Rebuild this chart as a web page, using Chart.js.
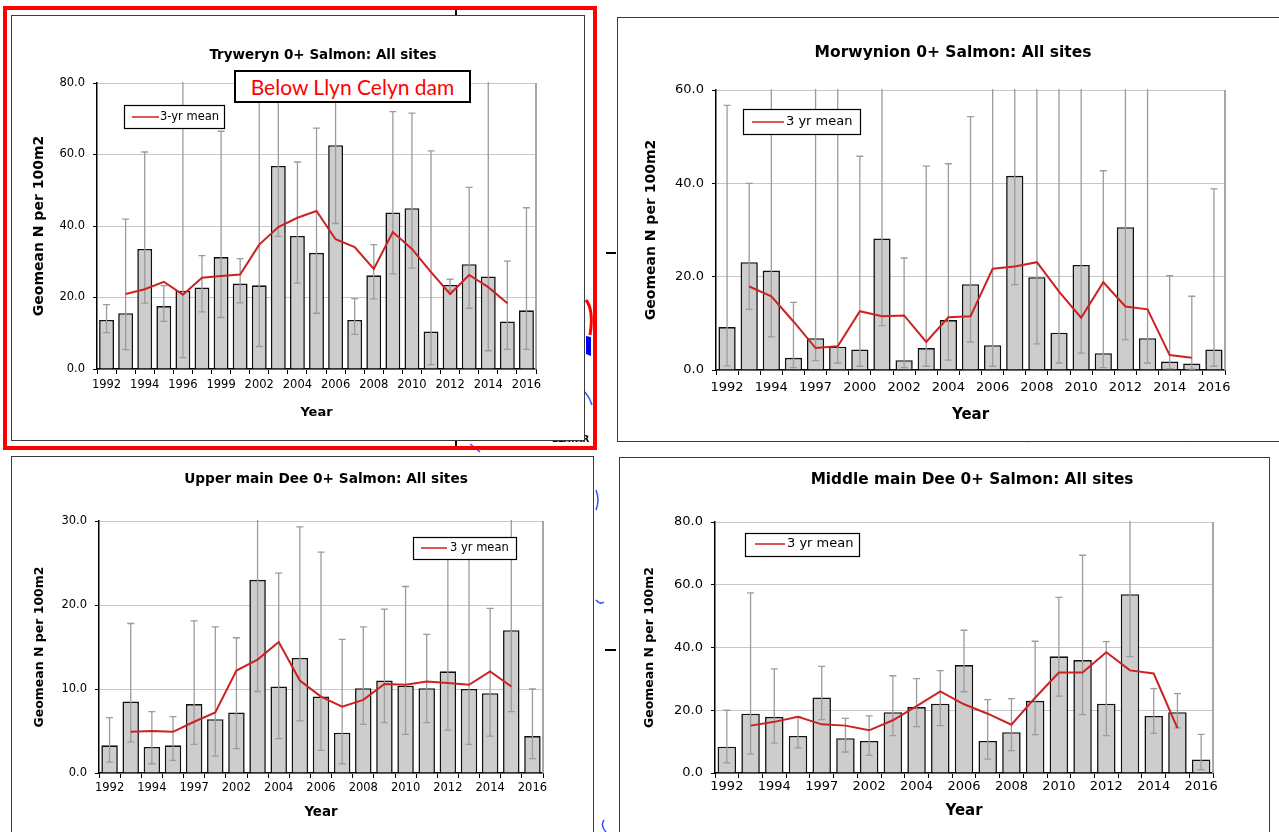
<!DOCTYPE html>
<html>
<head>
<meta charset="utf-8">
<title>0+ Salmon: All sites</title>
<script src="https://cdn.jsdelivr.net/npm/chart.js@4.4.1/dist/chart.umd.min.js"></script>
<style>
    html, body { margin: 0; padding: 0; background: #fff; width: 1279px; height: 832px; overflow: hidden; }
    .frame { position: absolute; box-sizing: border-box; border: 1.5px solid #3a3a3a; background: #fff; z-index: 2; }
    canvas { position: absolute; z-index: 3; }
    #map { position: absolute; left: 0; top: 0; z-index: 0; }
    #redFrame { position: absolute; left: 3px; top: 6px; width: 594px; height: 444px; box-sizing: border-box; border: 4px solid #ff0000; z-index: 1; }
    #damLabel {
        position: absolute; left: 234px; top: 70px; width: 237px; height: 33px; box-sizing: border-box;
        border: 2px solid #000; background: #fff; color: #ff0000; z-index: 4;
        font: 21px Lato, "Open Sans", sans-serif; line-height: 29px; text-align: center;
    }
    #llatar { position: absolute; left: 552px; top: 434px; font: bold 9px "DejaVu Sans", sans-serif; z-index: 1; }
</style>
</head>
<body>
<svg id="map" width="1279" height="832">
    <line x1="456" y1="8" x2="456" y2="16" stroke="#000" stroke-width="2"/>
    <line x1="456" y1="440" x2="456" y2="450" stroke="#000" stroke-width="2"/>
    <line x1="606" y1="253" x2="616" y2="253" stroke="#000" stroke-width="2"/>
    <line x1="605" y1="650" x2="616" y2="650" stroke="#000" stroke-width="2"/>
    <path d="M586 300 Q594 310 590 335" stroke="#ff0000" stroke-width="3" fill="none"/>
    <path d="M586 336 L591 337 L591 356 L586 354 Z" fill="#0000ff"/>
    <path d="M585 392 Q590 398 592 405" stroke="#3050ff" stroke-width="1.5" fill="none"/>
    <path d="M470 444 Q476 448 480 452" stroke="#3050ff" stroke-width="1.5" fill="none"/>
    <path d="M1028 432 L1029 442" stroke="#ff0000" stroke-width="3"/>
    <path d="M1190 434 L1186 442" stroke="#3050ff" stroke-width="1.5"/>
    <path d="M596 490 Q600 500 596 510" stroke="#3050ff" stroke-width="1.5" fill="none"/>
    <path d="M596 600 Q600 605 604 602" stroke="#3050ff" stroke-width="1.5" fill="none"/>
    <path d="M604 820 Q600 826 606 832" stroke="#3050ff" stroke-width="1.5" fill="none"/>
</svg>
<div id="redFrame"></div>
<div id="llatar">LLATAR</div>
<div id="damLabel">Below Llyn Celyn dam</div>

<script>
// Tryweryn (below Llyn Celyn dam)
const trywerynYears = ['1992','1993','1994','1995','1996','1997','1999','2000','2002','2003','2004','2005',
    '2006','2007','2008','2009','2010','2011','2012','2013','2014','2015','2016'];
const trywerynGeomean = [13.7, 15.6, 33.6, 17.6, 21.9, 22.8, 31.3, 23.9, 23.4, 56.8, 37.2, 32.5,
    62.6, 13.7, 26.2, 43.8, 45.0, 10.5, 23.5, 29.3, 25.9, 13.3, 16.4];
const trywerynLow = [10.2, 5.4, 18.4, 13.3, 3.2, 16.0, 14.4, 18.5, 6.3, 37.1, 24.0, 15.6,
    40.7, 9.7, 19.6, 26.6, 28.2, 1.2, 21.9, 17.0, 5.1, 5.5, 5.5];
const trywerynHigh = [18.0, 41.9, 60.7, 23.3, 90, 31.7, 66.5, 30.9, 90, 90, 57.9, 67.4,
    90, 19.7, 34.8, 72.0, 71.6, 61.0, 25.1, 50.8, 90, 30.2, 45.1];
const trywerynMean = [null, 21.0, 22.3, 24.4, 20.8, 25.5, 26.0, 26.4, 34.8, 39.7, 42.3, 44.2,
    36.3, 34.1, 28.0, 38.3, 33.6, 27.1, 21.0, 26.3, 22.9, 18.4, null];

// Morwynion
const morwynionYears = ['1992','1993','1994','1995','1997','1998','2000','2001','2002','2003','2004','2005',
    '2006','2007','2008','2009','2010','2011','2012','2013','2014','2015','2016'];
const morwynionGeomean = [9.2, 23.1, 21.3, 2.6, 6.8, 5.0, 4.4, 28.2, 2.1, 4.7, 10.7, 18.4,
    5.3, 41.6, 19.9, 8.0, 22.5, 3.6, 30.6, 6.8, 1.8, 1.4, 4.4];
const morwynionLow = [0.9, 13.0, 7.1, 0.5, 2.0, 1.5, 0.8, 9.5, 0.5, 0.8, 2.1, 6.0,
    0.8, 18.3, 5.6, 1.5, 3.6, 0.5, 6.5, 1.5, 0.3, 0.2, 0.8];
const morwynionHigh = [56.7, 40.0, 70, 14.5, 70, 70, 45.8, 70, 24.0, 43.7, 44.2, 54.3,
    70, 70, 70, 70, 70, 42.7, 70, 70, 20.2, 15.8, 38.8];
const morwynionMean = [null, 17.9, 15.8, 10.4, 4.7, 5.1, 12.6, 11.5, 11.7, 6.0, 11.3, 11.5,
    21.7, 22.2, 23.1, 16.8, 11.2, 18.8, 13.6, 13.0, 3.2, 2.6, null];

// Upper main Dee
const upperDeeYears = ['1992','1993','1994','1995','1997','1999','2002','2003','2004','2005','2006',
    '2007','2008','2009','2010','2011','2012','2013','2014','2015','2016'];
const upperDeeGeomean = [3.3, 8.5, 3.1, 3.3, 8.2, 6.4, 7.2, 23.0, 10.3, 13.7, 9.1,
    4.8, 10.1, 11.0, 10.4, 10.1, 12.1, 10.0, 9.5, 17.0, 4.4];
const upperDeeLow = [1.3, 3.7, 1.1, 1.5, 3.4, 2.0, 2.9, 9.7, 4.1, 6.2, 2.7,
    1.1, 5.8, 6.0, 4.6, 6.0, 5.1, 3.4, 4.4, 7.3, 1.7];
const upperDeeHigh = [6.6, 17.8, 7.3, 6.7, 18.1, 17.4, 16.1, 35, 23.8, 29.3, 26.3,
    15.9, 17.4, 19.5, 22.2, 16.5, 27.0, 26.5, 19.6, 35, 10.0];
const upperDeeMean = [null, 4.9, 5.0, 4.9, 6.1, 7.2, 12.2, 13.5, 15.6, 11.0, 9.1,
    7.9, 8.7, 10.6, 10.5, 10.9, 10.7, 10.5, 12.1, 10.3, null];

// Middle main Dee
const middleDeeYears = upperDeeYears.slice();
const middleDeeGeomean = [8.4, 18.9, 17.9, 11.8, 24.1, 11.1, 10.2, 19.4, 21.0, 22.1, 34.4,
    10.2, 13.0, 23.0, 37.2, 36.0, 22.1, 57.0, 18.2, 19.4, 4.3];
const middleDeeLow = [3.2, 6.0, 9.5, 8.0, 17.0, 6.7, 5.6, 11.9, 14.8, 15.1, 25.9,
    4.4, 7.1, 12.2, 24.5, 18.6, 11.9, 37.1, 12.6, 14.4, 1.1];
const middleDeeHigh = [20.0, 57.4, 33.2, 17.9, 34.0, 17.4, 18.2, 31.0, 30.1, 32.6, 45.5,
    23.4, 23.7, 42.0, 56.0, 69.4, 41.9, 90, 26.9, 25.3, 12.3];
const middleDeeMean = [null, 15.1, 16.3, 17.9, 15.5, 15.1, 13.6, 16.8, 21.3, 26.0, 21.9,
    18.9, 15.4, 24.0, 32.0, 32.0, 38.5, 32.7, 31.7, 14.3, null];

const FONT = '"DejaVu Sans", Verdana, sans-serif';

const panelDecor = {
    id: 'panelDecor',
    beforeDatasetsDraw(chart) {
        const a = chart.chartArea;
        const ctx = chart.ctx;
        ctx.save();
        ctx.strokeStyle = '#a6a6a6';
        ctx.lineWidth = 2;
        ctx.beginPath();
        ctx.moveTo(a.right, a.top);
        ctx.lineTo(a.right, a.bottom);
        ctx.stroke();
        ctx.restore();
    },
    afterDatasetDraw(chart, args, opts) {
        if (args.meta.type !== 'bar') return;
        const ctx = chart.ctx;
        const a = chart.chartArea;
        const y = chart.scales.y;
        ctx.save();
        ctx.beginPath();
        ctx.rect(a.left, a.top - 1, a.right - a.left, a.bottom - a.top + 1);
        ctx.clip();
        ctx.strokeStyle = '#9c9c9c';
        ctx.lineWidth = 1.3;
        args.meta.data.forEach((bar, i) => {
            const yl = y.getPixelForValue(opts.low[i]);
            const yh = y.getPixelForValue(opts.high[i]);
            ctx.beginPath();
            ctx.moveTo(bar.x, yl);
            ctx.lineTo(bar.x, yh);
            ctx.moveTo(bar.x - 3.5, yl);
            ctx.lineTo(bar.x + 3.5, yl);
            ctx.moveTo(bar.x - 3.5, yh);
            ctx.lineTo(bar.x + 3.5, yh);
            ctx.stroke();
        });
        ctx.restore();
    },
    afterDraw(chart, args, opts) {
        const ctx = chart.ctx;
        ctx.save();
        // chart title
        ctx.fillStyle = '#000';
        ctx.font = 'bold ' + opts.titleSize + 'px ' + FONT;
        ctx.textAlign = 'center';
        ctx.textBaseline = 'middle';
        ctx.fillText(opts.title, opts.titleX, opts.titleY);
        // legend box
        const lg = opts.legend;
        ctx.fillStyle = '#fff';
        ctx.fillRect(lg.x, lg.y, lg.w, lg.h);
        ctx.strokeStyle = '#000';
        ctx.lineWidth = 1.2;
        ctx.strokeRect(lg.x + 0.5, lg.y + 0.5, lg.w, lg.h);
        ctx.strokeStyle = '#cc2222';
        ctx.lineWidth = 1.5;
        ctx.beginPath();
        ctx.moveTo(lg.lineX1, lg.lineY);
        ctx.lineTo(lg.lineX2, lg.lineY);
        ctx.stroke();
        ctx.fillStyle = '#000';
        ctx.font = lg.size + 'px ' + FONT;
        ctx.textAlign = 'left';
        ctx.fillText(lg.text, lg.textX, lg.lineY);
        ctx.restore();
    }
};

function makePanel(p) {
    const f = p.frame;
    const frameDiv = document.createElement('div');
    frameDiv.className = 'frame';
    Object.assign(frameDiv.style, { left: f.x + 'px', top: f.y + 'px', width: f.w + 'px', height: f.h + 'px' });
    document.body.appendChild(frameDiv);

    const canvas = document.createElement('canvas');
    canvas.width = f.w;
    canvas.height = f.h;
    canvas.style.left = f.x + 'px';
    canvas.style.top = f.y + 'px';
    document.body.appendChild(canvas);

    const padL = 4;
    const yW = p.area.l - f.x - padL;
    const xH = f.h - (p.area.b - f.y);
    const tickLh = p.tickSize * 1.2;
    const xTickPad = Math.max(0, (p.tickY - p.area.b) - 5 - tickLh / 2);
    const yTitlePad = (p.yTitleX - f.x) - padL - p.yTitleSize * 0.6;
    const xTitlePad = f.h - p.xTitleSize * 0.6 - (p.xTitleY - f.y);
    const lg = p.legend;

    return new Chart(canvas, {
        type: 'bar',
        data: {
            labels: p.labels,
            datasets: [{
                type: 'line',
                label: lg.text,
                data: p.mean,
                borderColor: '#cc2222',
                borderWidth: 2,
                pointRadius: 0,
                tension: 0,
                order: 1
            }, {
                label: 'Geomean',
                data: p.values,
                backgroundColor: '#cdcdcd',
                borderColor: '#111',
                borderWidth: 1.6,
                barPercentage: 0.78,
                categoryPercentage: 1,
                order: 2
            }]
        },
        options: {
            responsive: false,
            animation: false,
            layout: {
                padding: { left: padL, top: p.area.t - f.y, right: f.w - (p.area.r - f.x), bottom: 0 }
            },
            plugins: {
                legend: { display: false },
                tooltip: { enabled: false },
                panelDecor: {
                    low: p.low,
                    high: p.high,
                    title: p.title,
                    titleSize: p.titleSize,
                    titleX: p.titleX - f.x,
                    titleY: p.titleY - f.y,
                    legend: {
                        x: lg.x - f.x, y: lg.y - f.y, w: lg.w, h: lg.h,
                        lineX1: lg.lineX1 - f.x, lineX2: lg.lineX2 - f.x, lineY: lg.lineY - f.y,
                        textX: lg.textX - f.x, text: lg.text, size: lg.size
                    }
                }
            },
            scales: {
                x: {
                    offset: true,
                    grid: { display: true, offset: true, drawOnChartArea: false, drawTicks: true, tickLength: 5, tickColor: '#000' },
                    border: { color: '#000', width: 1.5 },
                    ticks: {
                        autoSkip: false,
                        maxRotation: 0,
                        minRotation: 0,
                        padding: xTickPad,
                        color: '#000',
                        font: { family: FONT, size: p.tickSize },
                        callback: function(value, index) {
                            return index % 2 === 0 ? this.getLabelForValue(value) : '';
                        }
                    },
                    title: {
                        display: true,
                        text: 'Year',
                        color: '#000',
                        font: { family: FONT, size: p.xTitleSize, weight: 'bold' },
                        padding: { top: 0, bottom: xTitlePad }
                    },
                    afterFit: (scale) => { scale.height = xH; }
                },
                y: {
                    min: 0,
                    max: p.yMax,
                    grid: { color: '#c8c8c8', tickColor: '#000', tickLength: 4 },
                    border: { color: '#000', width: 1.5 },
                    ticks: {
                        stepSize: p.yStep,
                        padding: 8,
                        color: '#000',
                        font: { family: FONT, size: p.tickSize },
                        callback: (value) => value.toFixed(1)
                    },
                    title: {
                        display: true,
                        text: 'Geomean N per 100m2',
                        color: '#000',
                        font: { family: FONT, size: p.yTitleSize, weight: 'bold' },
                        padding: { top: yTitlePad, bottom: 0 }
                    },
                    afterFit: (scale) => { scale.width = yW; }
                }
            }
        },
        plugins: [panelDecor]
    });
}

makePanel({
    frame: { x: 11, y: 15, w: 574, h: 426 },
    area: { l: 97, t: 83, r: 536, b: 369 },
    labels: trywerynYears, values: trywerynGeomean, low: trywerynLow, high: trywerynHigh, mean: trywerynMean,
    yMax: 80, yStep: 20,
    title: 'Tryweryn 0+ Salmon: All sites', titleSize: 13.5, titleX: 323, titleY: 55,
    tickSize: 11.5, tickY: 385.5,
    yTitleX: 39, yTitleSize: 14, xTitleY: 413, xTitleSize: 13,
    legend: { x: 124, y: 105, w: 100, h: 23, lineX1: 132, lineX2: 159, lineY: 117, textX: 160, text: '3-yr mean', size: 11.5 }
});

makePanel({
    frame: { x: 617, y: 17, w: 700, h: 425 },
    area: { l: 716, t: 90, r: 1225, b: 370 },
    labels: morwynionYears, values: morwynionGeomean, low: morwynionLow, high: morwynionHigh, mean: morwynionMean,
    yMax: 60, yStep: 20,
    title: 'Morwynion 0+ Salmon: All sites', titleSize: 15.5, titleX: 953, titleY: 53,
    tickSize: 13, tickY: 388,
    yTitleX: 651, yTitleSize: 14, xTitleY: 415, xTitleSize: 15,
    legend: { x: 743, y: 109, w: 117, h: 25, lineX1: 752, lineX2: 784, lineY: 122, textX: 786, text: '3 yr mean', size: 13 }
});

makePanel({
    frame: { x: 11, y: 456, w: 583, h: 400 },
    area: { l: 99, t: 521, r: 543, b: 773 },
    labels: upperDeeYears, values: upperDeeGeomean, low: upperDeeLow, high: upperDeeHigh, mean: upperDeeMean,
    yMax: 30, yStep: 10,
    title: 'Upper main Dee 0+ Salmon: All sites', titleSize: 13.7, titleX: 326, titleY: 479,
    tickSize: 11.5, tickY: 788,
    yTitleX: 40, yTitleSize: 12.5, xTitleY: 813, xTitleSize: 13.4,
    legend: { x: 413, y: 537, w: 103, h: 22, lineX1: 421, lineX2: 447, lineY: 548, textX: 450, text: '3 yr mean', size: 11.5 }
});

makePanel({
    frame: { x: 619, y: 457, w: 651, h: 400 },
    area: { l: 715, t: 522, r: 1213, b: 773 },
    labels: middleDeeYears, values: middleDeeGeomean, low: middleDeeLow, high: middleDeeHigh, mean: middleDeeMean,
    yMax: 80, yStep: 20,
    title: 'Middle main Dee 0+ Salmon: All sites', titleSize: 15.3, titleX: 972, titleY: 480,
    tickSize: 13, tickY: 787,
    yTitleX: 650, yTitleSize: 12.5, xTitleY: 811, xTitleSize: 15,
    legend: { x: 745, y: 533, w: 114, h: 23, lineX1: 755, lineX2: 785, lineY: 544, textX: 787, text: '3 yr mean', size: 13 }
});
</script>
</body>
</html>
